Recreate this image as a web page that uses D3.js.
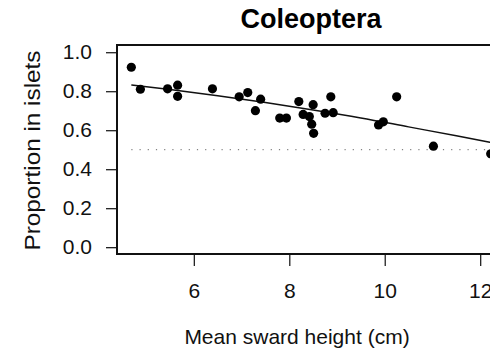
<!DOCTYPE html>
<html>
<head>
<meta charset="utf-8">
<script src="https://cdn.jsdelivr.net/npm/d3@7"></script>
<style>
  body { margin: 0; background: #fff; }
  svg { display: block; font-family: "Liberation Sans", Arial, sans-serif; }
</style>
</head>
<body>
<div id="chart"></div>
<script>
// sward height (cm) and proportion in islets
const swardHeight = [4.69, 4.88, 5.45, 5.66, 5.66, 6.39, 6.95, 7.13, 7.40, 7.29,
  7.80, 7.94, 8.20, 8.29, 8.42, 8.50, 8.47, 8.51, 8.75, 8.92, 8.87, 9.87, 9.97,
  10.25, 11.02, 12.22];
const proportion = [0.923, 0.810, 0.812, 0.831, 0.774, 0.812, 0.771, 0.793, 0.759,
  0.700, 0.662, 0.662, 0.747, 0.681, 0.670, 0.731, 0.631, 0.584, 0.687, 0.690,
  0.771, 0.627, 0.643, 0.771, 0.518, 0.479];

// fitted curve
const fitX = [4.69, 5.5, 6.5, 7.5, 8.5, 9.5, 10.5, 11.5, 12.22];
const fitY = [0.832, 0.809, 0.777, 0.742, 0.704, 0.663, 0.617, 0.571, 0.537];

const xTicks = [6, 8, 10, 12];
const yTicks = [0, 0.2, 0.4, 0.6, 0.8, 1.0];
const refLevel = 0.5;

const width = 490, height = 356;
const plot = { left: 117, right: 505, top: 45, bottom: 254 };

const svg = d3.select('#chart').append('svg')
  .attr('width', width)
  .attr('height', height);

const x = d3.scaleLinear().domain([4.39, 12.52]).range([plot.left, plot.right]);
const y = d3.scaleLinear().domain([-0.035, 1.037]).range([plot.bottom, plot.top]);

/* ---------- axes ---------- */
const xAxis = svg.append('g')
  .attr('transform', 'translate(0,' + plot.bottom + ')')
  .call(d3.axisBottom(x).tickValues(xTicks).tickFormat(d3.format('d'))
    .tickSize(12).tickPadding(17));
xAxis.select('.domain').remove();

const yAxis = svg.append('g')
  .attr('transform', 'translate(' + plot.left + ',0)')
  .call(d3.axisLeft(y).tickValues(yTicks).tickFormat(d3.format('.1f'))
    .tickSize(11).tickPadding(14));
yAxis.select('.domain').remove();

svg.selectAll('.tick line').attr('stroke', '#222').attr('stroke-width', 1.3);
svg.selectAll('.tick text').attr('fill', '#111').style('font-size', '21px');

/* ---------- reference line and fit ---------- */
svg.append('line')
  .attr('x1', x(swardHeight[0])).attr('x2', plot.right)
  .attr('y1', y(refLevel)).attr('y2', y(refLevel))
  .attr('stroke', '#666')
  .attr('stroke-width', 1)
  .attr('stroke-dasharray', '1.2 7');

const line = d3.line()
  .x(d => x(d[0]))
  .y(d => y(d[1]))
  .curve(d3.curveMonotoneX);

svg.append('path')
  .datum(d3.zip(fitX, fitY))
  .attr('d', line)
  .attr('fill', 'none')
  .attr('stroke', '#111')
  .attr('stroke-width', 1.5);

/* ---------- points ---------- */
svg.append('g').selectAll('circle')
  .data(d3.zip(swardHeight, proportion))
  .join('circle')
  .attr('cx', d => x(d[0]))
  .attr('cy', d => y(d[1]))
  .attr('r', 4.6)
  .attr('fill', '#000');

/* ---------- box ---------- */
svg.append('rect')
  .attr('x', plot.left).attr('y', plot.top)
  .attr('width', plot.right - plot.left)
  .attr('height', plot.bottom - plot.top)
  .attr('fill', 'none')
  .attr('stroke', '#111')
  .attr('stroke-width', 2);

/* ---------- titles ---------- */
svg.append('text')
  .attr('x', (plot.left + plot.right) / 2).attr('y', 28)
  .attr('text-anchor', 'middle')
  .style('font-size', '27px').style('font-weight', 'bold')
  .text('Coleoptera');

svg.append('text')
  .attr('x', (plot.left + plot.right) / 2 - 14).attr('y', 344)
  .attr('text-anchor', 'middle')
  .style('font-size', '21px').attr('fill', '#111')
  .text('Mean sward height (cm)');

svg.append('text')
  .attr('transform', 'translate(40,' + (plot.top + plot.bottom + 2) / 2 + ') rotate(-90)')
  .attr('text-anchor', 'middle')
  .attr('textLength', 200)
  .attr('lengthAdjust', 'spacingAndGlyphs')
  .style('font-size', '22px').attr('fill', '#111')
  .text('Proportion in islets');
</script>
</body>
</html>
